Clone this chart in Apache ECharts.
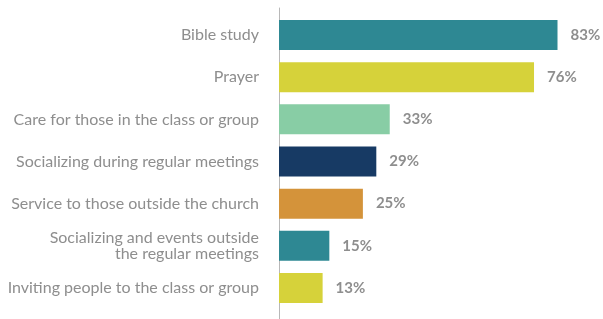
<!DOCTYPE html>
<html>
<head>
<meta charset="utf-8">
<script src="https://cdn.jsdelivr.net/npm/echarts@6/dist/echarts.min.js"></script>
<style>
  html, body { margin: 0; padding: 0; background: #fff; }
  #main { width: 603px; height: 319px; }
</style>
</head>
<body>
<div id="main"></div>
<script>
  // 类目和数值
  var categories = [
    'Bible study',
    'Prayer',
    'Care for those in the class or group',
    'Socializing during regular meetings',
    'Service to those outside the church',
    'Socializing and events outside\nthe regular meetings',
    'Inviting people to the class or group'
  ];
  var values = [83, 76, 33, 29, 25, 15, 13];
  var barColors = ['#2e8893', '#d6d23a', '#88cda5', '#173a64', '#d4933a', '#2e8893', '#d6d23a'];

  var myChart = echarts.init(document.getElementById('main'));
  var option = {
    animation: false,
    textStyle: { fontFamily: 'Lato' },
    grid: [
      { left: 279, right: 22, top: 14, bottom: 10 },
      // 只用来画那条更长的竖线
      { left: 279, width: 10, top: 8, bottom: 0 }
    ],
    xAxis: [
      {
        type: 'value',
        gridIndex: 0,
        min: 0,
        max: 90,
        show: false
      },
      { type: 'value', gridIndex: 1, show: false }
    ],
    yAxis: [
      {
        type: 'category',
        gridIndex: 0,
        inverse: true,
        data: categories,
        axisLine: { show: false },
        axisTick: { show: false },
        axisLabel: {
          margin: 20,
          fontSize: 16,
          lineHeight: 16,
          color: '#8e8e8e',
          align: 'right'
        }
      },
      {
        type: 'value',
        gridIndex: 1,
        min: 0,
        max: 1,
        axisLine: { show: true, lineStyle: { color: '#b8b8b8', width: 1 } },
        axisTick: { show: false },
        axisLabel: { show: false },
        splitLine: { show: false }
      }
    ],
    series: [
      {
        type: 'bar',
        xAxisIndex: 0,
        yAxisIndex: 0,
        barWidth: 30,
        data: values.map(function (v, i) {
          return { value: v, itemStyle: { color: barColors[i] } };
        }),
        label: {
          show: true,
          position: 'right',
          distance: 13,
          formatter: '{c}%',
          fontSize: 15,
          fontWeight: 'bold',
          color: '#8e8e8e'
        }
      }
    ]
  };
  myChart.setOption(option);
</script>
</body>
</html>
